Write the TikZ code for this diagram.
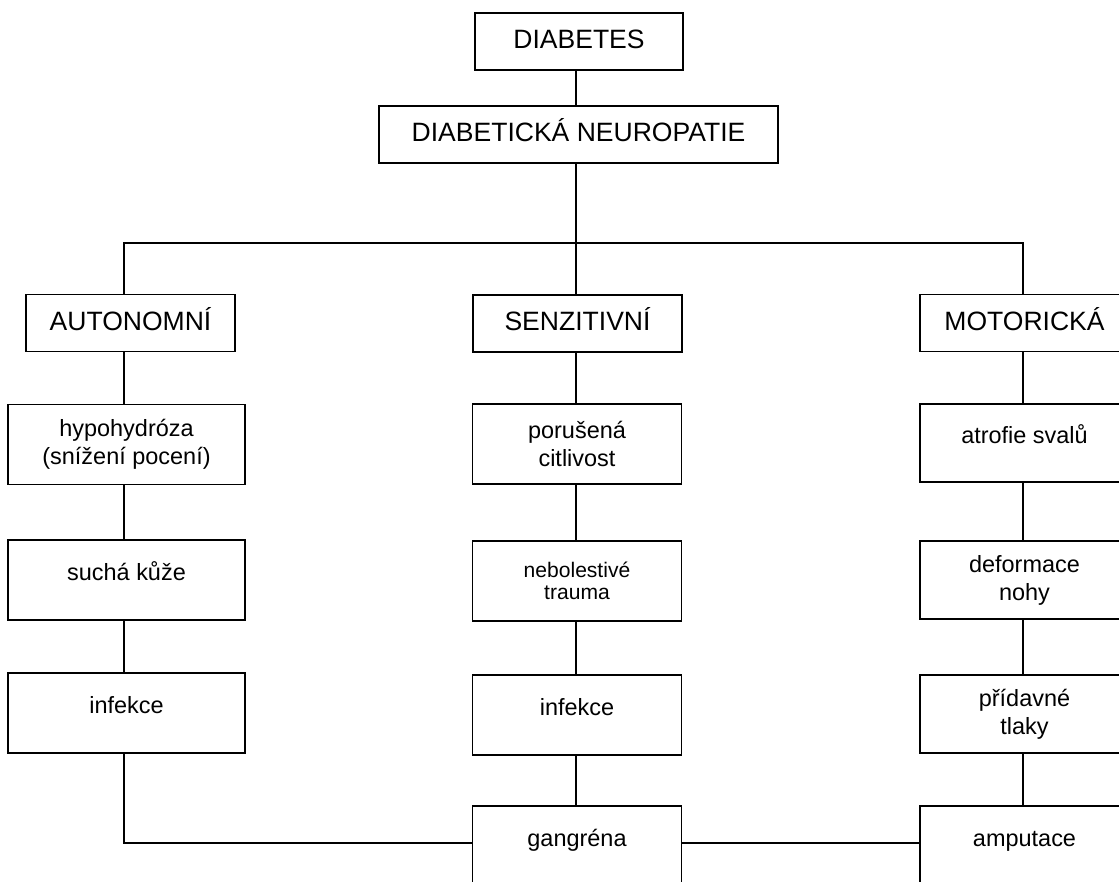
\documentclass[tikz,border=0pt]{standalone}
\usepackage{fontspec}
\setmainfont{Liberation Sans}
\usepackage{tikz}

\begin{document}
\begin{tikzpicture}[x=0.75pt, y=-0.75pt, line width=1.1pt,
  box/.style={draw, rectangle, inner sep=0pt, align=center},
  head/.style={box, minimum height=42.5pt, text height=15pt, text depth=4.5pt,
    font=\fontsize{19.9pt}{24pt}\selectfont},
  item/.style={box, minimum height=60pt, font=\fontsize{17.6pt}{21pt}\selectfont},
  one/.style={text height=8pt, text depth=8pt}]

  \useasboundingbox (0,0) rectangle (1119,881);
  \clip (0,0) rectangle (1119,881);

  % top boxes
  \node[head, minimum width=156pt] (diab) at (579, 41.5) {DIABETES};
  \node[head, minimum width=299.25pt] (neuro) at (578.5, 134.5) {DIABETICKÁ NEUROPATIE};

  % the bus and the three columns
  \coordinate (colA) at (124, 243);
  \coordinate (colB) at (576, 243);
  \coordinate (colC) at (1023, 243);

  \node[head, minimum width=156.75pt] (auto) at (130.5, 323) {AUTONOMNÍ};
  \node[head, minimum width=156.75pt] (senz) at (577.5, 323.5) {SENZITIVNÍ};
  \node[head, minimum width=156.75pt] (motor) at (1024.5, 323) {MOTORICKÁ};

  % autonomni
  \node[item, minimum width=177.75pt] (hypo) at (126.5, 444.5) {hypohydróza\\(snížení pocení)};
  \node[item, one, minimum width=177.75pt] (sucha) at (126.5, 580) {suchá kůže};
  \node[item, one, minimum width=177.75pt] (infA) at (126.5, 713) {infekce};

  % senzitivni
  \node[item, minimum width=156.75pt] (porus) at (577, 444) {porušená\\citlivost};
  \node[item, minimum width=156.75pt, font=\fontsize{15.8pt}{16.5pt}\selectfont] (nebol) at (577, 581) {nebolestivé\\trauma};
  \node[item, one, minimum width=156.75pt] (infB) at (577, 715) {infekce};
  \node[item, one, minimum width=156.75pt] (gang) at (577, 846) {gangréna};

  % motoricka
  \node[item, one, minimum width=156.75pt, minimum height=58.5pt] (atrof) at (1024.5, 443) {atrofie svalů};
  \node[item, minimum width=156.75pt, minimum height=58.5pt] (deform) at (1024.5, 580) {deformace\\nohy};
  \node[item, minimum width=156.75pt, minimum height=58.5pt] (prid) at (1024.5, 714) {přídavné\\tlaky};
  \node[item, one, minimum width=156.75pt] (amput) at (1024.5, 846) {amputace};

  % connectors
  \draw (colB |- diab.south) -- (colB |- neuro.north);
  \draw (colB |- neuro.south) -- (colB);
  \draw (colA |- auto.north) -- (colA) -- (colC) -- (colC |- motor.north);
  \draw (colB) -- (colB |- senz.north);

  \foreach \a/\b in {auto/hypo, hypo/sucha, sucha/infA}
    \draw (colA |- \a.south) -- (colA |- \b.north);
  \foreach \a/\b in {senz/porus, porus/nebol, nebol/infB, infB/gang}
    \draw (colB |- \a.south) -- (colB |- \b.north);
  \foreach \a/\b in {motor/atrof, atrof/deform, deform/prid, prid/amput}
    \draw (colC |- \a.south) -- (colC |- \b.north);

  \draw (colA |- infA.south) |- ([yshift=2.25pt]gang.west);
  \draw ([yshift=2.25pt]gang.east) -- ([yshift=2.25pt]amput.west);

\end{tikzpicture}
\end{document}
